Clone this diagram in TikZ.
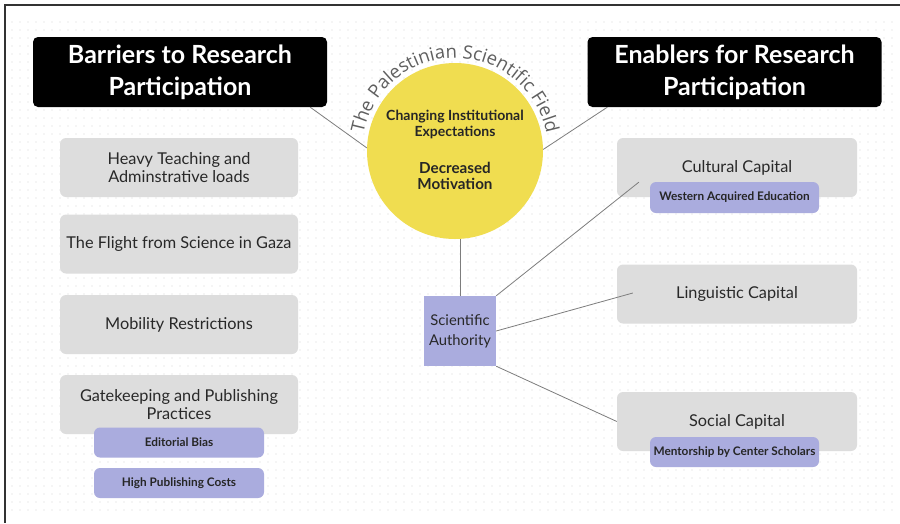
\documentclass[tikz,border=0pt]{standalone}
\usepackage{fontspec}
\setmainfont{Lato}
\newfontfamily\arcfont{Open Sans}
\usetikzlibrary{calc,decorations.text}
\definecolor{panelgray}{RGB}{221,221,221}
\definecolor{lav}{RGB}{170,172,222}
\definecolor{sun}{RGB}{240,221,80}
\definecolor{linkgray}{RGB}{125,125,125}
\definecolor{dotgray}{RGB}{232,232,232}
\definecolor{ink}{RGB}{40,40,40}
\definecolor{arcink}{RGB}{95,95,95}
\begin{document}
\begin{tikzpicture}[x=1pt,y=-1pt,
  header/.style={fill=black, rounded corners=5pt, minimum width=294pt, minimum height=70pt,
    text=white, font=\fontsize{25}{32}\selectfont\bfseries, align=center, inner sep=0pt},
  panel/.style={fill=panelgray, rounded corners=6pt, minimum width=238pt, minimum height=59pt,
    text=ink, font=\fontsize{16.3}{18.5}\selectfont, align=center, inner sep=0pt},
  tag/.style={fill=lav, rounded corners=6pt, minimum width=170pt, minimum height=30pt,
    text=black!85, font=\fontsize{11.8}{13}\selectfont\bfseries, inner sep=0pt},
  link/.style={draw=linkgray, line width=0.8pt}]

% canvas and frame
\fill[white] (0,0) rectangle (900,523);
\useasboundingbox (0,0) rectangle (900,523);
\foreach \j in {0,...,61} {
  \fill[dotgray] foreach \i in {0,...,110} { (11.4+\i*8, 21.4+\j*8) rectangle ++(1.2,1.2) };
}
\draw[black!80, line width=1.4pt] (900,5) -- (5,5) -- (5,523);

% headers
\node[header] (barriers) at (180,72) {Barriers to Research\\Participation};
\node[header] (enablers) at (734.5,72) {Enablers for Research\\Participation};

% barriers column
\node[panel] (teach) at (179,167.5) {Heavy Teaching and\\Adminstrative loads};
\node[panel] (gaza) at (179,244) {The Flight from Science in Gaza};
\node[panel] (mobil) at (179,324.5) {Mobility Restrictions};
\node[panel] (gate) at (179,404.5) {Gatekeeping and Publishing\\Practices};
\node[tag] (bias) at (179,442.5) {Editorial Bias};
\node[tag] (costs) at (179,483) {High Publishing Costs};

% enablers column
\node[panel, minimum width=240pt] (cult) at (737,167.5) {Cultural Capital};
\node[tag, minimum width=169pt, minimum height=31pt] (west) at (734.5,197.5) {Western Acquired Education};
\node[panel, minimum width=240pt] (ling) at (737,294) {Linguistic Capital};
\node[panel, minimum width=240pt] (soc) at (737,421.5) {Social Capital};
\node[tag, minimum width=169pt] (mentor) at (734.5,452) {Mentorship by Center Scholars};

% central field
\node[circle, fill=sun, minimum size=176pt, inner sep=0pt] (circ) at (455,151) {};
\path[decorate, decoration={text along path, text align=center, text color=arcink,
    text={|\arcfont\fontsize{18.5}{19}\selectfont|The Palestinian Scientific Field}}]
  (circ.center) ++(-179:93) arc[start angle=-179, end angle=-1, radius=93];
\node[font=\fontsize{14}{15.5}\selectfont\bfseries, align=center, text=black!85] (inst) at (455,124.5) {Changing Institutional\\Expectations};
\node[font=\fontsize{15.2}{16.5}\selectfont\bfseries, align=center, text=black!85] (motiv) at (455,176) {Decreased\\Motivation};

\node[fill=lav, minimum width=72pt, minimum height=70pt, inner sep=0pt, align=center,
  text=ink, font=\fontsize{14.8}{20}\selectfont] (sa) at (460,331) {Scientific\\Authority};

% connectors
\coordinate (barEnd) at ($(barriers.south east)+(-17,0)$);
\coordinate (enEnd) at ($(enablers.south west)+(20,0)$);
\coordinate (cultEnd) at ($(cult.south west)+(22,-15)$);
\coordinate (lingEnd) at ($(ling.west)+(16,-1)$);
\draw[link] (barEnd) -- (circ.178);
\draw[link] (circ.1) -- (enEnd);
\draw[link] (sa.north) -- (sa.north |- circ.south);
\draw[link] (sa.north east) -- (cultEnd);
\draw[link] (sa.east) -- (lingEnd);
\draw[link] (sa.south east) -- (soc.west);
\end{tikzpicture}
\end{document}
